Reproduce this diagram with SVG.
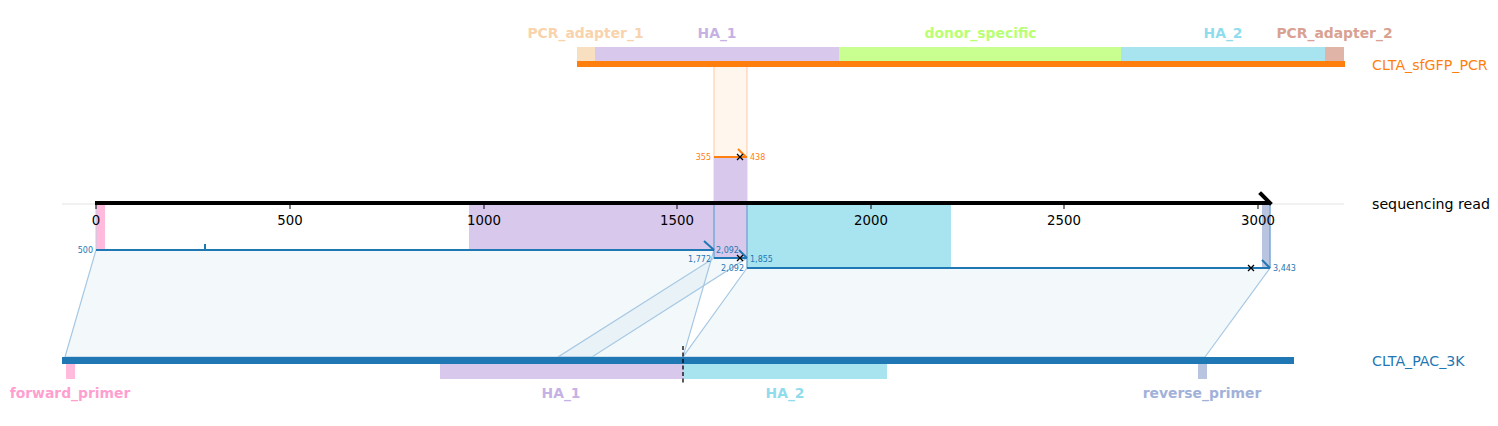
<svg xmlns="http://www.w3.org/2000/svg" width="1498" height="426" viewBox="0 0 1498 426">
<style>
text{font-family:"DejaVu Sans","Liberation Sans",sans-serif}
.lab{font-size:13.9px;font-weight:bold;text-anchor:middle}
.seq{font-size:14.2px}
.tick{font-size:13.3px;text-anchor:middle;fill:#000}
.sm{font-size:8px}
.blue{fill:#1f77b4}
.orng{fill:#ff7f0e}
.poly{fill:#a6c8e3;fill-opacity:0.13;stroke:#a6c8e3;stroke-width:1.2}
.aln{stroke:#1f77b4;stroke-width:2;fill:none}
.xm{stroke:#000;stroke-width:1.3}
</style>
<rect width="1498" height="426" fill="#fff"/>
<g id="connectors">
  <polygon class="poly" points="96,250 714,250 683,357 65,357"/>
  <polygon class="poly" points="714,258 747,258 592,357 558,357"/>
  <polygon class="poly" points="747,268 1270,268 1205,357 683,357"/>
</g>
<g id="pcr">
  <rect x="714" y="67" width="33" height="90" fill="#fff6ee"/>
  <line x1="714" y1="67" x2="714" y2="203" stroke="#ffc9a4" stroke-width="1"/>
  <line x1="747" y1="67" x2="747" y2="203" stroke="#ffc9a4" stroke-width="1"/>
  <rect x="577" y="47" width="18" height="14" fill="#f8dfc0"/>
  <rect x="595" y="47" width="244" height="14" fill="#d8c8eb"/>
  <rect x="839" y="47" width="282" height="14" fill="#c8ff90"/>
  <rect x="1121" y="47" width="204" height="14" fill="#a8e4ef"/>
  <rect x="1325" y="47" width="19" height="14" fill="#e0b4a6"/>
  <rect x="577" y="61" width="768" height="6" fill="#ff7f0e"/>
  <text class="lab" x="585.5" y="38" fill="#f9d3ab">PCR_adapter_1</text>
  <text class="lab" x="717" y="38" fill="#c6b1e5">HA_1</text>
  <text class="lab" x="980.5" y="38" fill="#b9ff73">donor_specific</text>
  <text class="lab" x="1223" y="38" fill="#8fdcec">HA_2</text>
  <text class="lab" x="1334.5" y="38" fill="#d9a191">PCR_adapter_2</text>
  <text class="seq orng" x="1372" y="70">CLTA_sfGFP_PCR</text>
  <rect x="714" y="157" width="33" height="46" fill="#d8c8eb"/>
  <line x1="714" y1="157" x2="747" y2="157" stroke="#ff7f0e" stroke-width="2"/>
  <line x1="738" y1="149" x2="746" y2="157" stroke="#ff7f0e" stroke-width="2"/>
  <path class="xm" d="M737,154 l6,6 M743,154 l-6,6"/>
  <text class="sm orng" x="711" y="160" text-anchor="end">355</text>
  <text class="sm orng" x="750" y="160">438</text>
</g>
<g id="read">
  <line x1="62" y1="204" x2="1344" y2="204" stroke="#e3e3e3" stroke-width="1"/>
  <rect x="96" y="205" width="9" height="45" fill="#ffbadc"/>
  <rect x="469" y="205" width="245" height="45" fill="#d8c8eb"/>
  <rect x="714" y="203" width="33" height="55" fill="#d8c8eb"/>
  <rect x="747" y="205" width="204" height="63" fill="#a8e4ef"/>
  <rect x="1262" y="205" width="8" height="63" fill="#b8c4e0"/>
  <line x1="714" y1="203" x2="714" y2="258" stroke="#7aa8d6" stroke-width="1.5"/>
  <line x1="747" y1="203" x2="747" y2="268" stroke="#7aa8d6" stroke-width="1.5"/>
  <line x1="1270" y1="203" x2="1270" y2="268" stroke="#7aa8d6" stroke-width="1.5"/>
  <line x1="96" y1="203" x2="96" y2="250" stroke="#b8cfe6" stroke-width="1"/>
  <g stroke="#000" stroke-width="1">
    <line x1="96" y1="205" x2="96" y2="209"/>
    <line x1="290" y1="205" x2="290" y2="209"/>
    <line x1="484" y1="205" x2="484" y2="209"/>
    <line x1="677" y1="205" x2="677" y2="209"/>
    <line x1="871" y1="205" x2="871" y2="209"/>
    <line x1="1064" y1="205" x2="1064" y2="209"/>
    <line x1="1258" y1="205" x2="1258" y2="209"/>
  </g>
  <line x1="95" y1="203" x2="1270" y2="203" stroke="#000" stroke-width="4"/>
  <line x1="1261" y1="194" x2="1270" y2="203" stroke="#000" stroke-width="4" stroke-linecap="square"/>
  <text class="tick" x="96" y="225">0</text>
  <text class="tick" x="290" y="225">500</text>
  <text class="tick" x="484" y="225">1000</text>
  <text class="tick" x="677" y="225">1500</text>
  <text class="tick" x="871" y="225">2000</text>
  <text class="tick" x="1064" y="225">2500</text>
  <text class="tick" x="1258" y="225">3000</text>
  <text class="seq" x="1372" y="209" fill="#000">sequencing read</text>
  <line class="aln" x1="96" y1="250" x2="714" y2="250"/>
  <line class="aln" x1="205" y1="244" x2="205" y2="250"/>
  <line class="aln" x1="704" y1="241" x2="714" y2="250"/>
  <line class="aln" x1="714" y1="258" x2="747" y2="258"/>
  <line class="aln" x1="739" y1="250" x2="747" y2="258"/>
  <line class="aln" x1="747" y1="268" x2="1270" y2="268"/>
  <line class="aln" x1="1262" y1="260" x2="1270" y2="268"/>
  <path class="xm" d="M737,255 l6,6 M743,255 l-6,6"/>
  <path class="xm" d="M1248,265 l6,6 M1254,265 l-6,6"/>
  <text class="sm blue" x="93" y="253" text-anchor="end">500</text>
  <text class="sm blue" x="716" y="253">2,092</text>
  <text class="sm blue" x="711" y="262" text-anchor="end">1,772</text>
  <text class="sm blue" x="750" y="262">1,855</text>
  <text class="sm blue" x="744" y="271" text-anchor="end">2,092</text>
  <text class="sm blue" x="1273" y="271">3,443</text>
</g>
<g id="ref">
  <rect x="62" y="357" width="1232" height="7" fill="#1f77b4"/>
  <rect x="66" y="364" width="9" height="15" fill="#ffbadc"/>
  <rect x="440" y="364" width="243" height="15" fill="#d8c8eb"/>
  <rect x="683" y="364" width="204" height="15" fill="#a8e4ef"/>
  <rect x="1198" y="364" width="9" height="15" fill="#b8c4e0"/>
  <line x1="683" y1="346" x2="683" y2="384" stroke="#000" stroke-width="1.3" stroke-dasharray="4,2.5"/>
  <text class="lab" x="70" y="398" fill="#ff9fd0">forward_primer</text>
  <text class="lab" x="561" y="398" fill="#c6b1e5">HA_1</text>
  <text class="lab" x="785" y="398" fill="#8fdcec">HA_2</text>
  <text class="lab" x="1202" y="398" fill="#a2b1d9">reverse_primer</text>
  <text class="seq blue" x="1372" y="366">CLTA_PAC_3K</text>
</g>
</svg>
